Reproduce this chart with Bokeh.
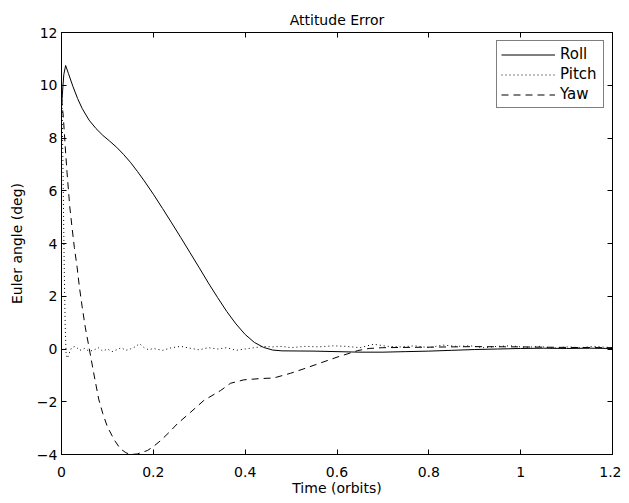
from bokeh.plotting import figure
from bokeh.models import LinearAxis, FixedTicker, Range1d, CustomLabelingPolicy
from bokeh.embed import file_html
from bokeh.resources import INLINE

# ---------------- data ----------------
roll_t = [0.0, 0.005, 0.009, 0.015, 0.025, 0.035, 0.045, 0.06, 0.075, 0.09, 0.105,
          0.12, 0.135, 0.15, 0.165, 0.18, 0.2, 0.22, 0.24, 0.26, 0.28, 0.30,
          0.32, 0.34, 0.36, 0.38, 0.40, 0.42, 0.44, 0.46, 0.48,
          0.55, 0.6, 0.65, 0.7, 0.75, 0.8, 0.85, 0.9, 0.95,
          1.0, 1.05, 1.1, 1.15, 1.2]
roll = [9.2, 10.4, 10.75, 10.45, 9.95, 9.5, 9.12, 8.68, 8.36, 8.1, 7.88,
        7.65, 7.38, 7.08, 6.74, 6.38, 5.87, 5.33, 4.78, 4.22, 3.65, 3.08,
        2.5, 1.95, 1.42, 0.95, 0.55, 0.25, 0.06, -0.04, -0.07,
        -0.08, -0.1, -0.12, -0.12, -0.1, -0.08, -0.05, -0.02, 0.0,
        0.02, 0.03, 0.02, 0.03, 0.02]

pitch_t = [0.0, 0.002, 0.004, 0.006, 0.008, 0.010, 0.013, 0.017, 0.022, 0.03,
           0.04, 0.05, 0.06, 0.07, 0.08, 0.09, 0.10, 0.11, 0.12, 0.13, 0.14, 0.15,
           0.16, 0.17, 0.18, 0.19, 0.20,
           0.22, 0.24, 0.26, 0.28, 0.30, 0.32, 0.34, 0.36, 0.38, 0.40, 0.42, 0.44,
           0.46, 0.48, 0.50,
           0.53, 0.56, 0.59, 0.62, 0.65, 0.68, 0.71, 0.74, 0.77, 0.80, 0.83, 0.86,
           0.89, 0.92, 0.95, 0.98, 1.01, 1.04, 1.07, 1.10,
           1.13, 1.16, 1.2]
pitch = [10.2, 8.5, 5.8, 3.0, 0.9, -0.2, -0.35, -0.15, 0.05, 0.1,
         -0.05, 0.02, -0.08, -0.05, 0.05, -0.08, 0.0, -0.1, -0.03, 0.05, -0.05, 0.0,
         0.08, 0.2, 0.05, -0.03, 0.02,
         -0.05, 0.05, 0.1, 0.03, -0.03, 0.05, 0.0, 0.05, -0.05, 0.0, 0.05, 0.1,
         0.08, 0.1, 0.05,
         0.1, 0.08, 0.12, 0.1, 0.05, 0.18, 0.1, 0.08, 0.12, 0.05, 0.15, 0.1,
         0.12, 0.05, 0.1, 0.12, 0.06, 0.1, 0.03, 0.08,
         0.05, 0.1, 0.05]

yaw_t = [0.0, 0.004, 0.008, 0.012, 0.018, 0.023, 0.028, 0.034, 0.039, 0.045, 0.052,
         0.059, 0.07, 0.081, 0.09, 0.1, 0.115, 0.128, 0.14, 0.15, 0.165, 0.187,
         0.2, 0.216, 0.235, 0.252, 0.281, 0.31, 0.346, 0.368, 0.397, 0.434, 0.462,
         0.499, 0.528, 0.564, 0.6, 0.622, 0.645, 0.67, 0.7, 0.8, 0.9, 1.0, 1.1, 1.2]
yaw = [9.5, 8.8, 7.7, 6.7, 5.4, 4.6, 3.85, 3.1, 2.35, 1.6, 0.8,
       0.15, -0.9, -1.9, -2.45, -2.95, -3.45, -3.78, -3.93, -4.0, -3.98, -3.85,
       -3.7, -3.47, -3.15, -2.84, -2.4, -1.95, -1.58, -1.3, -1.17, -1.12, -1.1,
       -0.92, -0.75, -0.53, -0.31, -0.19, -0.06, 0.02, 0.05, 0.07, 0.09, 0.08, 0.06, 0.05]

x_ticks = [0, 0.2, 0.4, 0.6, 0.8, 1.0, 1.2]
x_tick_labels = ["0", "0.2", "0.4", "0.6", "0.8", "1", "1.2"]
y_ticks = [-4, -2, 0, 2, 4, 6, 8, 10, 12]
y_tick_labels = ["\u22124", "\u22122", "0", "2", "4", "6", "8", "10", "12"]

FONT = "DejaVu Sans"

p = figure(frame_width=551, frame_height=422,
           min_border_left=61, min_border_right=9, min_border_top=32, min_border_bottom=46,
           x_range=Range1d(0, 1.2), y_range=Range1d(-4, 12),
           output_backend="svg", toolbar_location=None,
           title="Attitude Error")

p.background_fill_color = "white"
p.border_fill_color = "white"
p.outline_line_color = "black"
p.outline_line_width = 1
p.grid.visible = False

p.title.align = "center"
p.title.text_font = FONT
p.title.text_font_size = "14px"
p.title.text_font_style = "normal"
p.title.text_color = "black"

NO_LABELS = CustomLabelingPolicy(code="""
const out = Array.from(indices);
for (const i of out) { indices.unset(i); }
return indices;
""")

def style_axis(ax, ticks, labels, show_labels=True):
    ax.ticker = FixedTicker(ticks=ticks)
    ax.major_tick_in = 5
    ax.major_tick_out = 0
    ax.minor_tick_in = 0
    ax.minor_tick_out = 0
    ax.axis_line_color = "black"
    ax.major_tick_line_color = "black"
    ax.major_label_text_font = FONT
    ax.major_label_text_color = "black"
    if show_labels:
        ax.major_label_text_font_size = "14px"
        ax.major_label_overrides = {t: l for t, l in zip(ticks, labels)}
    else:
        ax.major_label_text_font_size = "0px"
        ax.major_label_policy = NO_LABELS
        ax.major_label_standoff = 0

xax = p.xaxis[0]
style_axis(xax, x_ticks, x_tick_labels)
xax.major_label_standoff = 12
xax.axis_label = "Time (orbits)"
xax.axis_label_standoff = 0
xax.axis_label_text_font = FONT
xax.axis_label_text_font_size = "14px"
xax.axis_label_text_font_style = "normal"
xax.axis_label_text_color = "black"

yax = p.yaxis[0]
style_axis(yax, y_ticks, y_tick_labels)
yax.major_label_standoff = 4
yax.axis_label = "Euler angle (deg)"
yax.axis_label_standoff = 9
yax.axis_label_text_font = FONT
yax.axis_label_text_font_size = "14px"
yax.axis_label_text_font_style = "normal"
yax.axis_label_text_color = "black"

top = LinearAxis()
style_axis(top, x_ticks, x_tick_labels, show_labels=False)
top.major_label_standoff = 5
p.add_layout(top, "above")
right = LinearAxis()
style_axis(right, y_ticks, y_tick_labels, show_labels=False)
p.add_layout(right, "right")

p.line(roll_t, roll, line_color="black", line_width=1, legend_label="Roll")
p.line(pitch_t, pitch, line_color="black", line_width=1, line_dash="1 3", legend_label="Pitch")
p.line(yaw_t, yaw, line_color="black", line_width=1, line_dash="7 5", legend_label="Yaw")

lg = p.legend[0]
lg.location = "top_right"
lg.margin = 8
lg.padding = 4
lg.spacing = 2
lg.glyph_width = 54
lg.glyph_height = 17
lg.label_height = 17
lg.label_width = 39
lg.label_standoff = 5
lg.label_text_font = FONT
lg.label_text_font_size = "15px"
lg.label_text_color = "black"
lg.border_line_color = "black"
lg.border_line_width = 1
lg.background_fill_color = "white"
lg.background_fill_alpha = 1.0

open("out.html", "w").write(file_html(p, INLINE))
